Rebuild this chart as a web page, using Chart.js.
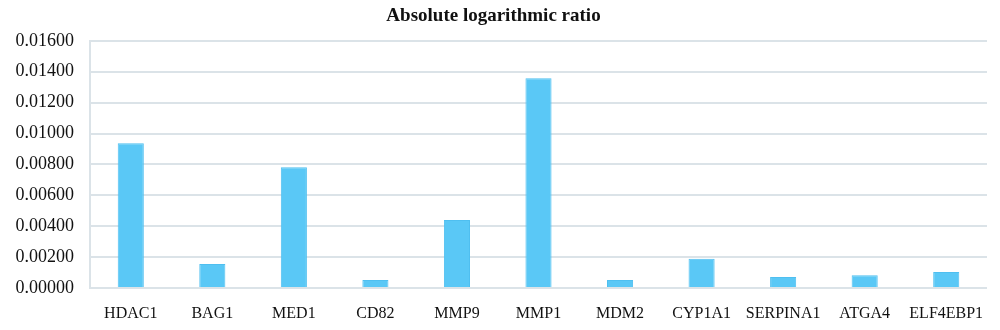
<!DOCTYPE html>
<html>
<head>
<meta charset="utf-8">
<script src="https://cdn.jsdelivr.net/npm/chart.js@4"></script>
<style>
  html, body { margin: 0; padding: 0; background: #fff; }
  #wrap { width: 1000px; height: 330px; }
</style>
</head>
<body>
<div id="wrap"><canvas id="chart"></canvas></div>
<script>
const genes = ['HDAC1', 'BAG1', 'MED1', 'CD82', 'MMP9', 'MMP1', 'MDM2', 'CYP1A1', 'SERPINA1', 'ATGA4', 'ELF4EBP1'];
const ratios = [0.00937, 0.00155, 0.00781, 0.00052, 0.00440, 0.01357, 0.00052, 0.00190, 0.00071, 0.00082, 0.00104];
const yTicks = [0, 0.002, 0.004, 0.006, 0.008, 0.010, 0.012, 0.014, 0.016];

const gridColor = '#dbe3e8';
const serif = "'Liberation Serif', 'DejaVu Serif', serif";

new Chart(document.getElementById('chart').getContext('2d'), {
  type: 'bar',
  data: {
    labels: genes,
    datasets: [{
      label: 'Absolute logarithmic ratio',
      data: ratios,
      backgroundColor: '#5ac8f6',
      borderColor: '#4fbff0',
      borderWidth: 1,
      categoryPercentage: 1,
      barPercentage: 0.32
    }]
  },
  options: {
    responsive: true,
    maintainAspectRatio: false,
    animation: false,
    layout: { padding: { left: 0, right: 13, top: 3, bottom: 0 } },
    plugins: {
      legend: { display: false },
      tooltip: { enabled: false },
      title: {
        display: true,
        text: 'Absolute logarithmic ratio',
        color: '#111',
        font: { family: serif, size: 19, weight: 'bold' },
        padding: { top: 2, bottom: 13 }
      }
    },
    scales: {
      x: {
        grid: { display: false },
        border: { display: false },
        ticks: {
          color: '#111',
          font: { family: serif, size: 16 },
          maxRotation: 0,
          autoSkip: false,
          padding: 8
        },
        afterFit: (scale) => { scale.height = 42; }
      },
      y: {
        min: 0,
        max: 0.016,
        afterBuildTicks: (scale) => { scale.ticks = yTicks.map(v => ({ value: v })); },
        grid: { color: gridColor, lineWidth: 2, drawTicks: false },
        border: { display: true, color: gridColor, width: 2 },
        ticks: {
          color: '#111',
          font: { family: serif, size: 18 },
          padding: 16,
          callback: (v) => Number(v).toFixed(5)
        },
        afterFit: (scale) => { scale.width = 90; }
      }
    }
  }
});
</script>
</body>
</html>
